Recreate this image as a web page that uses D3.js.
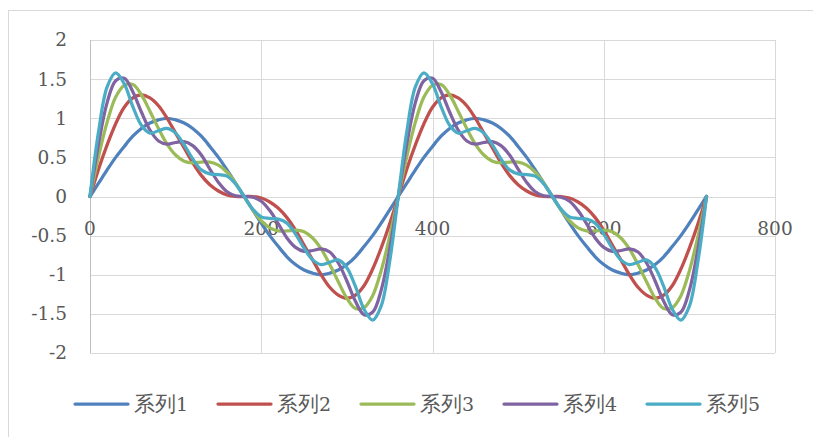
<!DOCTYPE html>
<html>
<head>
<meta charset="utf-8">
<script src="https://cdn.jsdelivr.net/npm/d3@7"></script>
<style>
  body { margin: 0; background: #fff; }
</style>
</head>
<body>
<svg id="chart"></svg>
<script>
// x values (degrees)
const xValues = [0,10,20,30,40,50,60,70,80,90,100,110,120,130,140,150,160,170,180,190,200,210,220,230,240,250,260,270,280,290,300,310,320,330,340,350,360,
  370,380,390,400,410,420,430,440,450,460,470,480,490,500,510,520,530,540,550,560,570,580,590,600,610,620,630,640,650,660,670,680,690,700,710,720];

const series1 = [0,.17,.34,.5,.64,.77,.87,.94,.98,1,.98,.94,.87,.77,.64,.5,.34,.17,0,-.17,-.34,-.5,-.64,-.77,-.87,-.94,-.98,-1,-.98,-.94,-.87,-.77,-.64,-.5,-.34,-.17,0,
  .17,.34,.5,.64,.77,.87,.94,.98,1,.98,.94,.87,.77,.64,.5,.34,.17,0,-.17,-.34,-.5,-.64,-.77,-.87,-.94,-.98,-1,-.98,-.94,-.87,-.77,-.64,-.5,-.34,-.17,0];
const series2 = [0,.35,.66,.93,1.14,1.26,1.3,1.26,1.16,1,.81,.62,.43,.27,.15,.07,.02,0,0,0,-.02,-.07,-.15,-.27,-.43,-.62,-.81,-1,-1.16,-1.26,-1.3,-1.26,-1.14,-.93,-.66,-.35,0,
  .35,.66,.93,1.14,1.26,1.3,1.26,1.16,1,.81,.62,.43,.27,.15,.07,.02,0,0,0,-.02,-.07,-.15,-.27,-.43,-.62,-.81,-1,-1.16,-1.26,-1.3,-1.26,-1.14,-.93,-.66,-.35,0];
const series3 = [0,.51,.95,1.27,1.42,1.43,1.3,1.09,.87,.67,.53,.45,.43,.44,.44,.4,.31,.17,0,-.17,-.31,-.4,-.44,-.44,-.43,-.45,-.53,-.67,-.87,-1.09,-1.3,-1.43,-1.42,-1.27,-.95,-.51,0,
  .51,.95,1.27,1.42,1.43,1.3,1.09,.87,.67,.53,.45,.43,.44,.44,.4,.31,.17,0,-.17,-.31,-.4,-.44,-.44,-.43,-.45,-.53,-.67,-.87,-1.09,-1.3,-1.43,-1.42,-1.27,-.95,-.51,0];
const series4 = [0,.67,1.2,1.48,1.51,1.34,1.08,.85,.71,.67,.69,.7,.65,.53,.35,.18,.06,.01,0,-.01,-.06,-.18,-.35,-.53,-.65,-.7,-.69,-.67,-.71,-.85,-1.08,-1.34,-1.51,-1.48,-1.2,-.67,0,
  .67,1.2,1.48,1.51,1.34,1.08,.85,.71,.67,.69,.7,.65,.53,.35,.18,.06,.01,0,-.01,-.06,-.18,-.35,-.53,-.65,-.7,-.69,-.67,-.71,-.85,-1.08,-1.34,-1.51,-1.48,-1.2,-.67,0];
const series5 = [0,.83,1.4,1.58,1.44,1.15,.91,.81,.84,.87,.81,.66,.48,.34,.29,.28,.26,.16,0,-.16,-.26,-.28,-.29,-.34,-.48,-.66,-.81,-.87,-.84,-.81,-.91,-1.15,-1.44,-1.58,-1.4,-.83,0,
  .83,1.4,1.58,1.44,1.15,.91,.81,.84,.87,.81,.66,.48,.34,.29,.28,.26,.16,0,-.16,-.26,-.28,-.29,-.34,-.48,-.66,-.81,-.87,-.84,-.81,-.91,-1.15,-1.44,-1.58,-1.4,-.83,0];

const seriesNames = ["系列1", "系列2", "系列3", "系列4", "系列5"];
const xTicks = [0, 200, 400, 600, 800];
const yTicks = [-2, -1.5, -1, -0.5, 0, 0.5, 1, 1.5, 2];

const allSeries = [series1, series2, series3, series4, series5];
const colors = ["#4F81BD", "#C0504D", "#9BBB59", "#8064A2", "#4BACC6"];

var width = 813, height = 437;
var plot = { left: 90, right: 775, top: 40, bottom: 353 };
var fontFamily = "'DejaVu Serif', 'Liberation Serif', serif";

var svg = d3.select("#chart").attr("width", width).attr("height", height)
  .attr("font-family", fontFamily);

// chart frame
svg.append("rect")
  .attr("x", 8.5).attr("y", 10.5)
  .attr("width", 820).attr("height", 440)
  .attr("fill", "none").attr("stroke", "#d9d9d9");

var x = d3.scaleLinear().domain([0, 800]).range([plot.left, plot.right]);
var y = d3.scaleLinear().domain([-2, 2]).range([plot.bottom, plot.top]);

// gridlines
svg.append("g").selectAll("line")
  .data(yTicks)
  .enter().append("line")
  .attr("x1", plot.left).attr("x2", plot.right)
  .attr("y1", d => Math.round(y(d)) + 0.5).attr("y2", d => Math.round(y(d)) + 0.5)
  .attr("stroke", "#d9d9d9");

svg.append("g").selectAll("line")
  .data(xTicks)
  .enter().append("line")
  .attr("y1", plot.top).attr("y2", plot.bottom)
  .attr("x1", d => Math.round(x(d)) + 0.5).attr("x2", d => Math.round(x(d)) + 0.5)
  .attr("stroke", d => d === 0 ? "#bfbfbf" : "#d9d9d9");

// y tick labels
svg.append("g").selectAll("text")
  .data(yTicks)
  .enter().append("text")
  .attr("x", 67).attr("y", d => y(d))
  .attr("dy", "0.35em")
  .attr("text-anchor", "end")
  .attr("fill", "#595959")
  .attr("font-size", 18.5)
  .text(d => d);

// x tick labels (sit just below the zero line)
svg.append("g").selectAll("text")
  .data(xTicks)
  .enter().append("text")
  .attr("x", d => x(d)).attr("y", y(0) + 38)
  .attr("text-anchor", "middle")
  .attr("fill", "#595959")
  .attr("font-size", 18.5)
  .text(d => d);

// series lines
var line = d3.line()
  .x((d, i) => x(xValues[i]))
  .y(d => y(d))
  .curve(d3.curveCatmullRom.alpha(0.5));

svg.append("g").selectAll("path")
  .data(allSeries)
  .enter().append("path")
  .attr("d", line)
  .attr("fill", "none")
  .attr("stroke", (d, i) => colors[i])
  .attr("stroke-width", 3.25)
  .attr("stroke-linejoin", "round")
  .attr("stroke-linecap", "round");

// legend
var legend = svg.append("g").selectAll("g")
  .data(seriesNames)
  .enter().append("g")
  .attr("transform", (d, i) => "translate(" + (75 + i * 143) + ",404)");

legend.append("line")
  .attr("x1", 0).attr("x2", 53)
  .attr("stroke", (d, i) => colors[i])
  .attr("stroke-width", 3.25)
  .attr("stroke-linecap", "round");

var legendText = legend.append("text")
  .attr("x", 59).attr("y", 7)
  .attr("fill", "#595959");
legendText.append("tspan")
  .attr("font-size", 21)
  .text(d => d.slice(0, 2));
legendText.append("tspan")
  .attr("font-size", 19)
  .text(d => d.slice(2));
</script>
</body>
</html>
